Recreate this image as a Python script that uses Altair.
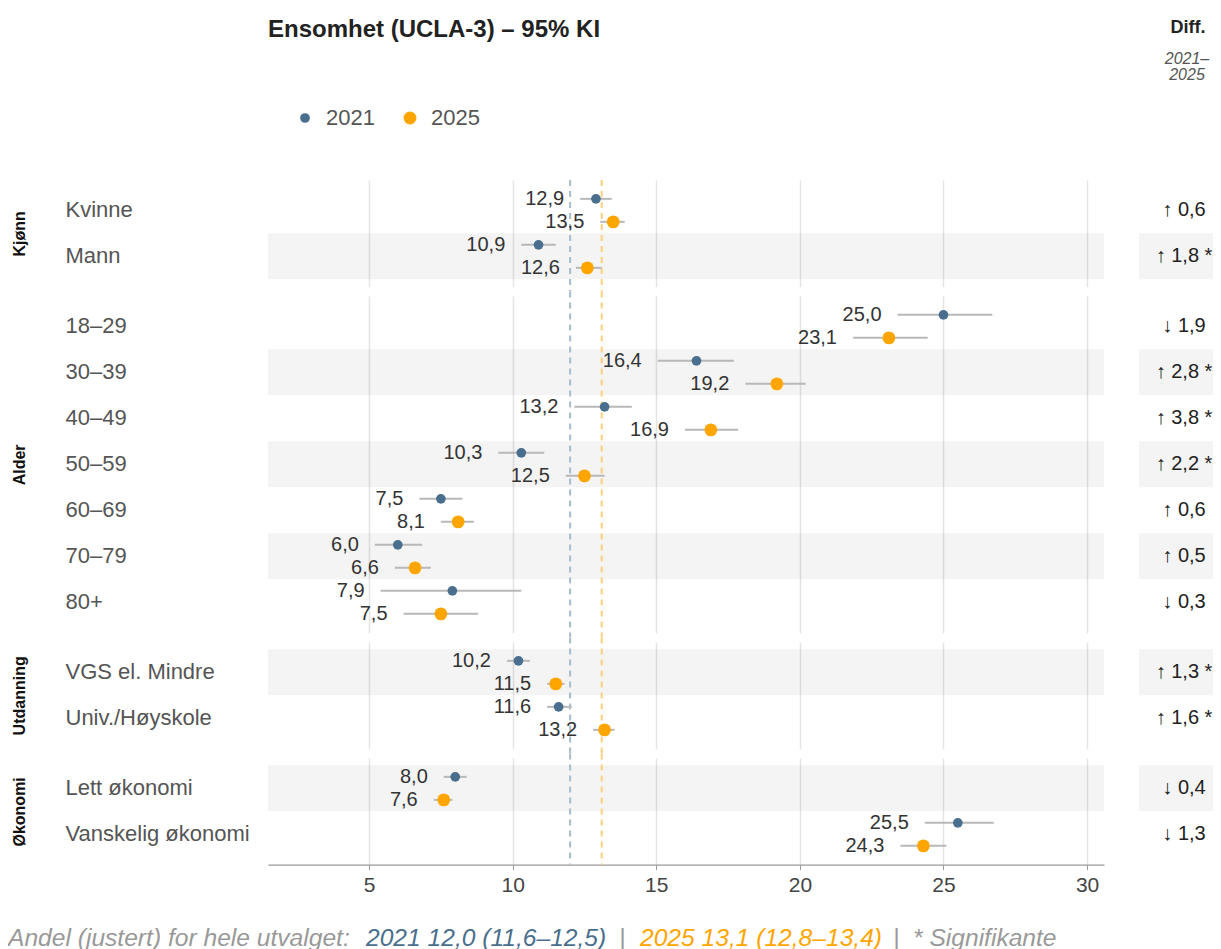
import altair as alt
import pandas as pd

FONT = "Liberation Sans"

# ---------------- data ----------------
groups = ["Kjønn", "Kjønn", "Alder", "Alder", "Alder", "Alder", "Alder", "Alder", "Alder",
          "Utdanning", "Utdanning", "Økonomi", "Økonomi"]
labels = ["Kvinne", "Mann", "18–29", "30–39", "40–49", "50–59", "60–69", "70–79", "80+",
          "VGS el. Mindre", "Univ./Høyskole", "Lett økonomi", "Vanskelig økonomi"]
v2021 = [12.9, 10.9, 25.0, 16.4, 13.2, 10.3, 7.5, 6.0, 7.9, 10.2, 11.6, 8.0, 25.5]
lo2021 = [12.35, 10.3, 23.4, 15.05, 12.15, 9.5, 6.75, 5.2, 5.4, 9.8, 11.2, 7.6, 24.35]
hi2021 = [13.45, 11.5, 26.7, 17.7, 14.15, 11.1, 8.25, 6.85, 10.3, 10.6, 12.05, 8.4, 26.75]
v2025 = [13.5, 12.6, 23.1, 19.2, 16.9, 12.5, 8.1, 6.6, 7.5, 11.5, 13.2, 7.6, 24.3]
lo2025 = [13.05, 12.2, 21.85, 18.1, 16.0, 11.85, 7.5, 5.9, 6.2, 11.2, 12.8, 7.25, 23.5]
hi2025 = [13.9, 13.1, 24.45, 20.2, 17.85, 13.2, 8.65, 7.15, 8.8, 11.8, 13.55, 7.9, 25.1]
diff = [0.6, 1.8, -1.9, 2.8, 3.8, 2.2, 0.6, 0.5, -0.3, 1.3, 1.6, -0.4, -1.3]
significant = [False, True, False, True, True, True, False, False, False, True, True, False, False]
years = ["2021", "2025"]
overall = [12.0, 13.1]
x_ticks = [5, 10, 15, 20, 25, 30]
group_order = ["Kjønn", "Alder", "Utdanning", "Økonomi"]

footer_text = ["Andel (justert) for hele utvalget:", "2021 12,0 (11,6–12,5)", "|",
               "2025 13,1 (12,8–13,4)", "|", "* Signifikante"]

# ---------------- styles / layout ----------------
C21 = "#4a6f8e"
C25 = "#ffa500"
C21_LIGHT = "#a7bccd"
C25_LIGHT = "#ffd07a"
GREY = "#999999"
W = 836
STEP = 46
PAD = 0.16
SPACING = 9
X_DOMAIN = [1.48, 30.59]
YEAR_SHIFT = [-11.5, 11.5]
DIFF_X = 916
footer_colors = [GREY, C21, GREY, C25, GREY, GREY]
footer_x = [-260, 98, 351, 372, 625, 645]


def fmt(v):
    return f"{v:.1f}".replace(".", ",")


rows = pd.DataFrame({"group": groups, "label": labels})
rows["idx"] = range(len(rows))
rows["shade"] = rows["idx"] % 2 == 1
rows["difftxt"] = [("↑ " if d > 0 else "↓ ") + fmt(abs(d)) + (" *" if s else "")
                   for d, s in zip(diff, significant)]

recs = []
for i in range(len(labels)):
    for yr, v, lo, hi in ((years[0], v2021[i], lo2021[i], hi2021[i]),
                          (years[1], v2025[i], lo2025[i], hi2025[i])):
        recs.append(dict(group=groups[i], label=labels[i], year=yr, value=v,
                         lo=lo, hi=hi, txt=fmt(v)))
pts = pd.DataFrame(recs)

legend = alt.Legend(orient="none", legendX=26, legendY=-73, direction="horizontal",
                    title=None, labelFontSize=22, labelColor="#555555", labelFont=FONT,
                    symbolType="circle", columnPadding=24, labelOffset=10,
                    symbolStrokeWidth=0, symbolOpacity=1)


def make_panel(g, position):
    r = rows[rows.group == g]
    p = pts[pts.group == g]
    order = list(r.label)
    n = len(order)
    h = STEP * (n + 2 * PAD)

    xscale = alt.Scale(domain=X_DOMAIN, nice=False, zero=False)
    if position == "last":
        xaxis = alt.Axis(values=x_ticks, title=None, grid=True, gridColor="#e4e4e4",
                         gridWidth=1.5, labelFontSize=21, labelColor="#444444",
                         labelFont=FONT, domainColor="#9a9a9a", domainWidth=1.2,
                         tickColor="#9a9a9a", tickSize=5, labelPadding=5)
    else:
        xaxis = alt.Axis(values=x_ticks, title=None, grid=True, gridColor="#e4e4e4",
                         gridWidth=1.5, labels=False, ticks=False, domain=False)

    def X(field):
        return alt.X(field, scale=xscale, axis=xaxis)

    yenc = alt.Y("label:N", sort=order,
                 scale=alt.Scale(paddingInner=0, paddingOuter=PAD),
                 axis=alt.Axis(title=g, titleFontSize=16, titleFontWeight="bold",
                               titleColor="#111111", titleFont=FONT, titleX=-241,
                               labelAlign="left", labelPadding=203, labelFontSize=22,
                               labelColor="#555555", labelFont=FONT, ticks=False,
                               tickSize=0, domain=False, grid=False, labelLimit=300))

    layers = []
    shaded = r[r.shade]
    if len(shaded):
        band = alt.Chart(shaded).mark_rect(color="#000000", opacity=0.045).encode(
            y=yenc, x=alt.value(0), x2=alt.value(W))
        box = alt.Chart(shaded).mark_rect(color="#000000", opacity=0.045).encode(
            y=yenc, x=alt.value(871), x2=alt.value(945))
        layers += [band, box]

    # overall reference lines run continuously through the gaps between panels
    top = 0 if position == "first" else -SPACING / 2
    bot = h if position == "last" else h + SPACING / 2
    for v, c in zip(overall, [C21_LIGHT, C25_LIGHT]):
        layers.append(alt.Chart(pd.DataFrame({"v": [v]})).mark_rule(
            color=c, strokeDash=[6, 5], strokeWidth=2).encode(
            x=X("v:Q"), y=alt.value(top), y2=alt.value(bot)))

    for yr, shift in zip(years, YEAR_SHIFT):
        py = p[p.year == yr]
        layers.append(alt.Chart(py).mark_rule(color="#b8b8b8", strokeWidth=2, yOffset=shift).encode(
            x=X("lo:Q"), x2="hi:Q", y=yenc))
    for yr, shift in zip(years, YEAR_SHIFT):
        py = p[p.year == yr]
        layers.append(alt.Chart(py).mark_circle(opacity=1, yOffset=shift).encode(
            x=X("value:Q"), y=yenc,
            color=alt.Color("year:N", scale=alt.Scale(domain=years, range=[C21, C25]), legend=legend),
            size=alt.Size("year:N", scale=alt.Scale(domain=years, range=[95, 165]), legend=legend)))
    for yr, shift in zip(years, YEAR_SHIFT):
        py = p[p.year == yr]
        layers.append(alt.Chart(py).mark_text(align="right", baseline="middle", dx=-16, yOffset=shift,
                                              fontSize=20, color="#333333", font=FONT).encode(
            x=X("lo:Q"), y=yenc, text="txt:N"))

    layers.append(alt.Chart(r).mark_text(align="center", baseline="middle", fontSize=20,
                                         color="#222222", font=FONT).encode(
        y=yenc, x=alt.value(DIFF_X), text="difftxt:N"))

    if position == "first":
        layers.append(alt.Chart(pd.DataFrame({"t": ["Ensomhet (UCLA-3) – 95% KI"]})).mark_text(
            align="left", baseline="middle", fontSize=24, fontWeight="bold",
            color="#222222", font=FONT).encode(x=alt.value(0), y=alt.value(-150), text="t:N"))
        layers.append(alt.Chart(pd.DataFrame({"t": ["Diff."]})).mark_text(
            align="center", baseline="middle", fontSize=18, fontWeight="bold",
            color="#222222", font=FONT).encode(x=alt.value(920), y=alt.value(-152), text="t:N"))
        layers.append(alt.Chart(pd.DataFrame({"t": ["2021–"]})).mark_text(
            align="center", baseline="middle", fontSize=16, fontStyle="italic",
            color="#555555", font=FONT).encode(x=alt.value(919), y=alt.value(-121), text="t:N"))
        layers.append(alt.Chart(pd.DataFrame({"t": ["2025"]})).mark_text(
            align="center", baseline="middle", fontSize=16, fontStyle="italic",
            color="#555555", font=FONT).encode(x=alt.value(919), y=alt.value(-105), text="t:N"))

    if position == "last":
        for t, c, fx in zip(footer_text, footer_colors, footer_x):
            layers.append(alt.Chart(pd.DataFrame({"t": [t]})).mark_text(
                align="left", baseline="middle", fontSize=24.6, fontStyle="italic",
                color=c, font=FONT).encode(x=alt.value(fx), y=alt.value(h + 74), text="t:N"))

    return alt.layer(*layers).properties(width=W, height=alt.Step(STEP))


panels = []
for k, g in enumerate(group_order):
    pos = "first" if k == 0 else ("last" if k == len(group_order) - 1 else "mid")
    panels.append(make_panel(g, pos))

chart = alt.vconcat(*panels, spacing=SPACING, bounds="flush").properties(
    padding={"top": 10, "left": 0, "right": 0, "bottom": 0},
    background="white",
).configure_view(stroke=None)

chart.save("out.html", embed_options={"renderer": "svg", "actions": False})
